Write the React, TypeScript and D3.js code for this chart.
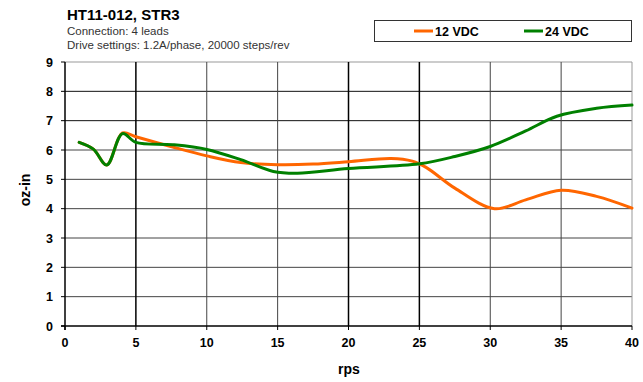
import React from "react";
import * as d3 from "d3";

const title = "HT11-012, STR3";
const subtitle1 = "Connection: 4 leads";
const subtitle2 = "Drive settings: 1.2A/phase, 20000 steps/rev";
const xTicks = [0, 5, 10, 15, 20, 25, 30, 35, 40];
const yTicks = [0, 1, 2, 3, 4, 5, 6, 7, 8, 9];
const seriesNames = ["12 VDC", "24 VDC"];
const seriesColors = ["#FF6600", "#008000"];

const rps12 = [1, 2, 2.95, 4.05, 5, 7.6, 10, 12.4, 15, 17.5, 20, 23, 24.5, 25.5, 27.5, 30.3, 32.5, 35, 37.5, 40];
const oz12 = [6.26, 6.03, 5.49, 6.58, 6.45, 6.1, 5.8, 5.57, 5.5, 5.52, 5.6, 5.71, 5.62, 5.4, 4.7, 4.0, 4.3, 4.63, 4.42, 4.02];
const rps24 = [1, 2, 2.95, 4.05, 5, 7.6, 10, 12.4, 14.7, 16.4, 20, 25, 27.5, 30, 32.5, 34.7, 37.5, 40];
const oz24 = [6.26, 6.03, 5.49, 6.56, 6.26, 6.18, 6.02, 5.67, 5.27, 5.21, 5.37, 5.53, 5.78, 6.12, 6.65, 7.15, 7.42, 7.53];

export default function App() {
  const W = 643, H = 382;
  const x0 = 65, x1 = 632, yTop = 62, yBot = 326;
  const x = d3.scaleLinear().domain([0, 40]).range([x0, x1]);
  const y = d3.scaleLinear().domain([0, 9]).range([yBot, yTop]);
  const line = d3.line<[number, number]>().x(d => x(d[0])).y(d => y(d[1])).curve(d3.curveCatmullRom.alpha(0.5));
  const s12 = rps12.map((r, i) => [r, oz12[i]] as [number, number]);
  const s24 = rps24.map((r, i) => [r, oz24[i]] as [number, number]);
  const darkV = new Set([5, 20, 25]);
  const darkH = new Set([7, 8]);
  const font = "'Liberation Sans', Arial, sans-serif";
  return (
    <svg width={W} height={H} style={{ position: "absolute", left: 0, top: 0, background: "#fff" }} fontFamily={font}>
      <rect x={0} y={0} width={W} height={H} fill="#fff" />
      <text x={67} y={20} fontSize={15} fontWeight="bold" fill="#000">{title}</text>
      <text x={67} y={35} fontSize={11.5} fill="#333">{subtitle1}</text>
      <text x={67} y={49} fontSize={11.5} fill="#333">{subtitle2}</text>
      {/* legend */}
      <rect x={374.5} y={20.5} width={257} height={21} fill="#fff" stroke="#333" strokeWidth={1} />
      {seriesNames.map((n, i) => {
        const lx = i === 0 ? 414 : 524;
        return (
          <g key={n}>
            <line x1={lx} x2={lx + 19} y1={31} y2={31} stroke={seriesColors[i]} strokeWidth={3} />
            <text x={lx + 21} y={35.5} fontSize={12.5} fontWeight="bold" fill="#000">{n}</text>
          </g>
        );
      })}
      {/* grid */}
      {yTicks.filter(t => t > 0).map(t => (
        <line key={"h" + t} x1={x0} x2={x1} y1={y(t)} y2={y(t)} stroke={darkH.has(t) ? "#111" : t === 9 ? "#999" : "#444"} strokeWidth={1} />
      ))}
      {xTicks.filter(t => t > 0).map(t => (
        <line key={"v" + t} x1={x(t)} x2={x(t)} y1={yTop} y2={yBot} stroke={darkV.has(t) ? "#000" : t === 40 ? "#999" : "#444"} strokeWidth={darkV.has(t) ? 1.5 : 1} />
      ))}
      {/* axes */}
      <line x1={x0} x2={x0} y1={yTop} y2={yBot + 4} stroke="#000" strokeWidth={1.5} />
      <line x1={x0 - 4} x2={x1} y1={yBot} y2={yBot} stroke="#000" strokeWidth={1.5} />
      {yTicks.map(t => (
        <g key={"yt" + t}>
          <line x1={x0 - 4} x2={x0} y1={y(t)} y2={y(t)} stroke="#000" />
          <text x={53} y={y(t) + 4.5} fontSize={12.5} fontWeight="bold" textAnchor="end" fill="#000">{t}</text>
        </g>
      ))}
      {xTicks.map(t => (
        <g key={"xt" + t}>
          <line x1={x(t)} x2={x(t)} y1={yBot} y2={yBot + 4} stroke="#000" />
          <text x={x(t)} y={347} fontSize={12.5} fontWeight="bold" textAnchor="middle" fill="#000">{t}</text>
        </g>
      ))}
      <text x={349} y={374} fontSize={14} fontWeight="bold" textAnchor="middle" fill="#000">rps</text>
      <text transform="translate(30,190) rotate(-90)" fontSize={14} fontWeight="bold" textAnchor="middle" fill="#000">oz-in</text>
      {/* series */}
      <path d={line(s12) || ""} fill="none" stroke={seriesColors[0]} strokeWidth={3} strokeLinecap="round" />
      <path d={line(s24) || ""} fill="none" stroke={seriesColors[1]} strokeWidth={3} strokeLinecap="round" />
    </svg>
  );
}
